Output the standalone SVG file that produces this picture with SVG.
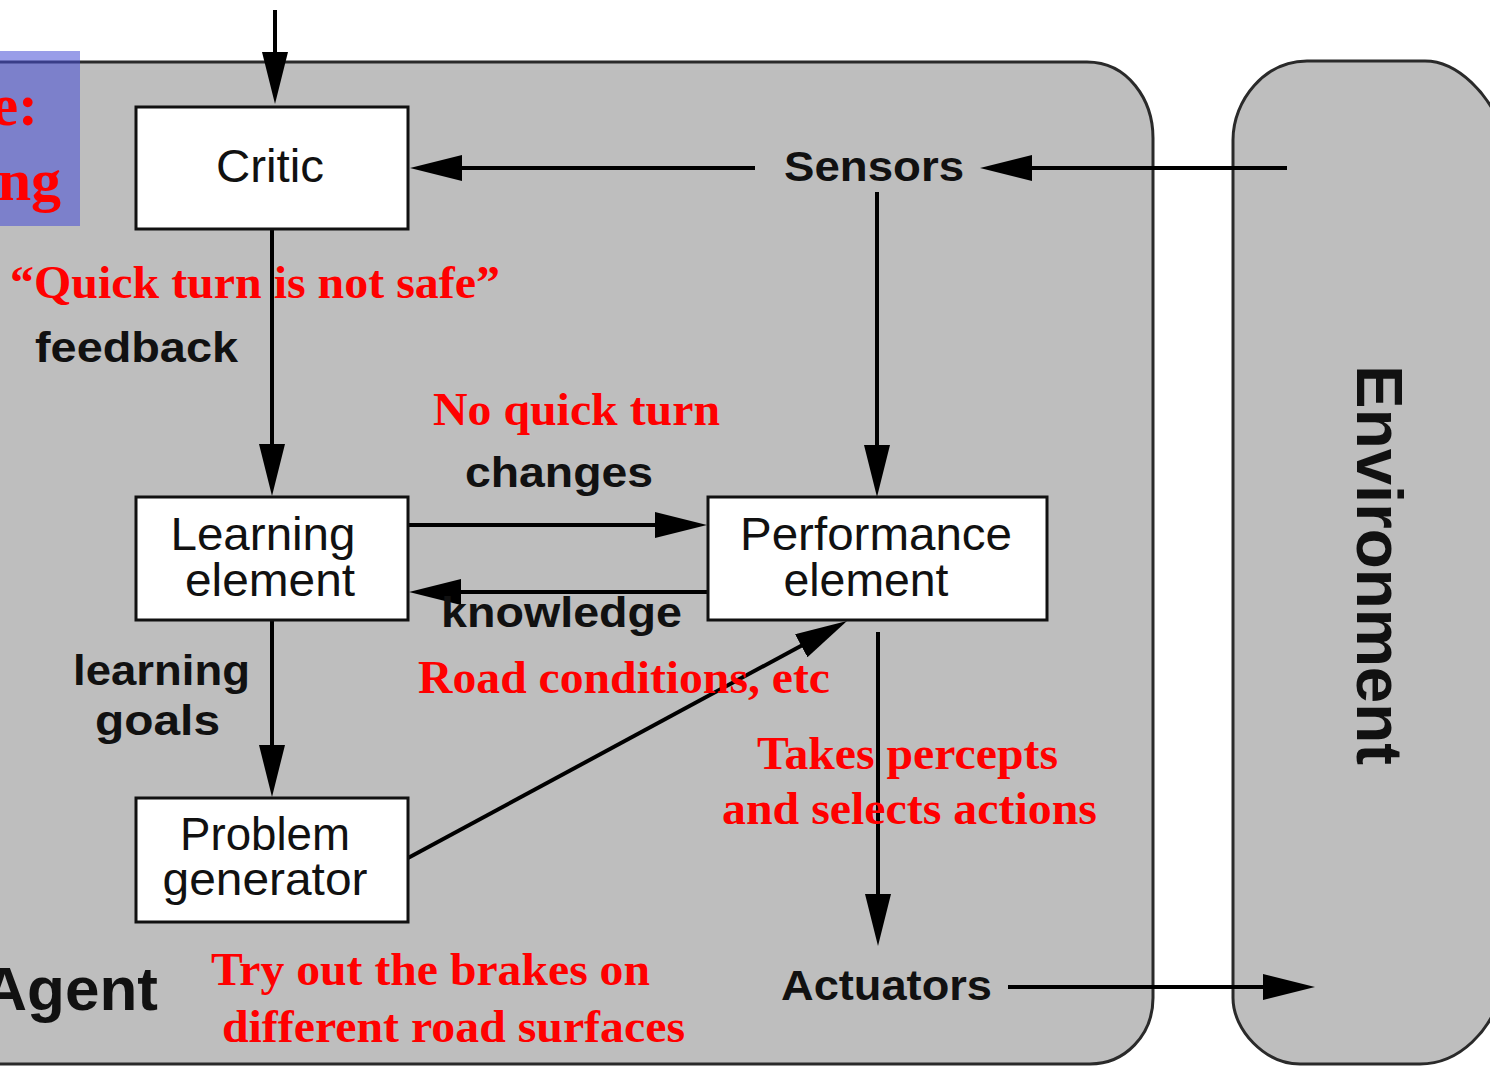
<svg xmlns="http://www.w3.org/2000/svg" width="1490" height="1067" viewBox="0 0 1490 1067">
<style>
.panel{fill:#bebebe;stroke:#2a2a2a;stroke-width:3}
.box{fill:#ffffff;stroke:#111;stroke-width:3}
.conn{stroke:#000;stroke-width:4;fill:none;marker-end:url(#ah)}
.lbl{font-family:"Liberation Sans",Arial,sans-serif;font-size:46px;fill:#111;text-anchor:middle}
.bl{font-family:"Liberation Sans",Arial,sans-serif;font-weight:bold;font-size:42px;fill:#111}
.red{font-family:"Liberation Serif","Times New Roman",serif;font-weight:bold;font-size:47px;fill:#ff0000}
</style>
<defs>
<marker id="ah" markerUnits="userSpaceOnUse" markerWidth="54" markerHeight="28" refX="42" refY="13" orient="auto">
<path d="M0,0 L52,13 L0,26 Z" fill="#000"/>
</marker>
</defs>
<rect width="1490" height="1067" fill="#ffffff"/>
<g id="agent-panel">
<path class="panel" d="M-10,62 L1087,62 C1128,62 1153,100 1153,138 L1153,998 C1153,1035 1125,1064 1090,1064 L-10,1064 Z"/>
<text class="bl" x="158" y="1010" text-anchor="end" style="font-size:62px">Agent</text>
</g>
<g id="environment-panel">
<path class="panel" d="M1307,61 L1425,61 C1458,61 1490,95 1502,130 L1502,990 C1492,1030 1460,1064 1420,1064 L1300,1064 C1265,1064 1233,1030 1233,998 L1233,140 C1233,100 1265,61 1307,61 Z"/>
<text class="bl" transform="translate(1357,565) rotate(90)" text-anchor="middle" style="font-size:64px" textLength="400" lengthAdjust="spacingAndGlyphs">Environment</text>
</g>
<g id="title-fragment">
<rect x="0" y="51" width="80" height="175" fill="rgb(69,76,214)" fill-opacity="0.55"/>
<text class="red" x="38" y="125" text-anchor="end" style="font-size:60px">e:</text>
<text class="red" x="61" y="200" text-anchor="end" style="font-size:60px">ng</text>
</g>
<g id="connectors">
<line class="conn" x1="275" y1="10" x2="275" y2="94"/>
<line class="conn" x1="755" y1="168" x2="420" y2="168"/>
<line class="conn" x1="1287" y1="168" x2="990" y2="168"/>
<line class="conn" x1="272" y1="229" x2="272" y2="486"/>
<line class="conn" x1="877" y1="192" x2="877" y2="487"/>
<line class="conn" x1="408" y1="525" x2="697" y2="525"/>
<line class="conn" x1="708" y1="592" x2="419" y2="592"/>
<line class="conn" x1="272" y1="620" x2="272" y2="787"/>
<line class="conn" x1="408" y1="858" x2="838.2" y2="625.8"/>
<line class="conn" x1="878" y1="632" x2="878" y2="936"/>
<line class="conn" x1="1008" y1="987" x2="1305" y2="987"/>
</g>
<g id="critic">
<rect class="box" x="136" y="107" width="272" height="122"/>
<text class="lbl" x="270" y="182" textLength="108" lengthAdjust="spacingAndGlyphs">Critic</text>
</g>
<g id="sensors">
<text class="bl" x="784" y="181" textLength="180" lengthAdjust="spacingAndGlyphs">Sensors</text>
</g>
<g id="learning-element">
<rect class="box" x="136" y="497" width="272" height="123"/>
<text class="lbl" x="263" y="550" textLength="185" lengthAdjust="spacingAndGlyphs">Learning</text>
<text class="lbl" x="270" y="596" textLength="170" lengthAdjust="spacingAndGlyphs">element</text>
</g>
<g id="performance-element">
<rect class="box" x="708" y="497" width="339" height="123"/>
<text class="lbl" x="876" y="550" textLength="272" lengthAdjust="spacingAndGlyphs">Performance</text>
<text class="lbl" x="866" y="596" textLength="165" lengthAdjust="spacingAndGlyphs">element</text>
</g>
<g id="problem-generator">
<rect class="box" x="136" y="798" width="272" height="124"/>
<text class="lbl" x="265" y="850" textLength="170" lengthAdjust="spacingAndGlyphs">Problem</text>
<text class="lbl" x="265" y="895" textLength="205" lengthAdjust="spacingAndGlyphs">generator</text>
</g>
<g id="actuators">
<text class="bl" x="781" y="1000" textLength="211" lengthAdjust="spacingAndGlyphs">Actuators</text>
</g>
<g id="labels">
<text class="bl" x="35" y="362" textLength="203" lengthAdjust="spacingAndGlyphs">feedback</text>
<text class="bl" x="465" y="487" textLength="188" lengthAdjust="spacingAndGlyphs">changes</text>
<text class="bl" x="441" y="627" textLength="241" lengthAdjust="spacingAndGlyphs">knowledge</text>
<text class="bl" x="73" y="685" textLength="177" lengthAdjust="spacingAndGlyphs">learning</text>
<text class="bl" x="95" y="735" textLength="125" lengthAdjust="spacingAndGlyphs">goals</text>
</g>
<g id="annotations">
<text class="red" x="10" y="298" textLength="490" lengthAdjust="spacingAndGlyphs">“Quick turn is not safe”</text>
<text class="red" x="433" y="425" textLength="287" lengthAdjust="spacingAndGlyphs">No quick turn</text>
<text class="red" x="418" y="693" textLength="412" lengthAdjust="spacingAndGlyphs">Road conditions, etc</text>
<text class="red" x="757" y="769" textLength="301" lengthAdjust="spacingAndGlyphs">Takes percepts</text>
<text class="red" x="722" y="824" textLength="375" lengthAdjust="spacingAndGlyphs">and selects actions</text>
<text class="red" x="211" y="985" textLength="439" lengthAdjust="spacingAndGlyphs">Try out the brakes on</text>
<text class="red" x="222" y="1042" textLength="463" lengthAdjust="spacingAndGlyphs">different road surfaces</text>
</g>
</svg>
